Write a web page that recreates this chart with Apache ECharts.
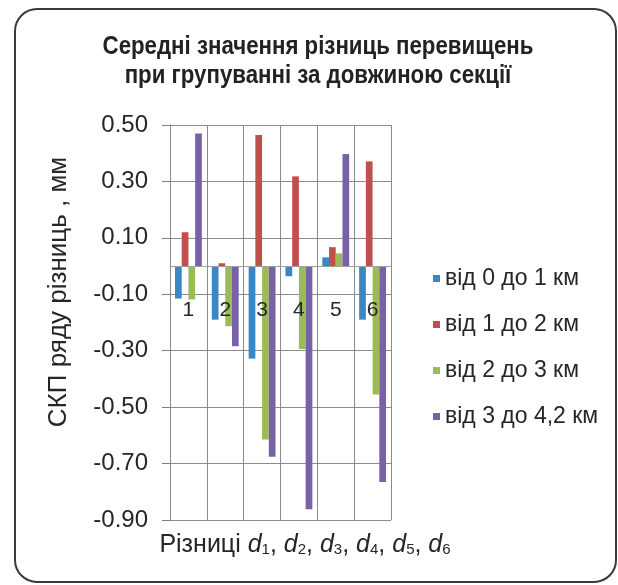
<!DOCTYPE html>
<html>
<head>
<meta charset="utf-8">
<script src="https://cdn.jsdelivr.net/npm/echarts@6/dist/echarts.min.js"></script>
<style>
  html, body { margin: 0; padding: 0; background: #ffffff; }
  #chart { width: 618px; height: 585px; }
</style>
</head>
<body>
<div id="chart"></div>
<script>
// Categories: differences d1..d6
const categories = ['1', '2', '3', '4', '5', '6'];

// Legend / series names (section length groups)
const seriesNames = ['від 0 до 1 км', 'від 1 до 2 км', 'від 2 до 3 км', 'від 3 до 4,2 км'];

// Mean values of the height differences, mm
const group0to1 = [-0.115, -0.19, -0.328, -0.036, 0.031, -0.19];
const group1to2 = [0.12, 0.01, 0.465, 0.318, 0.067, 0.371];
const group2to3 = [-0.118, -0.213, -0.615, -0.294, 0.045, -0.455];
const group3to42 = [0.47, -0.284, -0.676, -0.862, 0.397, -0.765];

// Value axis range and step
const yMin = -0.9;
const yMax = 0.5;
const yStep = 0.2;

const colors = ['#3a87c6', '#c0504d', '#9bbb59', '#7762a8'];
const seriesData = [group0to1, group1to2, group2to3, group3to42];

const chart = echarts.init(document.getElementById('chart'));

const textFont = "'Liberation Sans', Arial, sans-serif";

// plot area
const gridTop = 125;
const gridBottom = 65;
const gridHeight = 585 - gridTop - gridBottom;
// lift the category axis up to the zero level of the value axis
const zeroOffset = -gridHeight * (0 - yMin) / (yMax - yMin);

chart.setOption({
  backgroundColor: '#ffffff',
  animation: false,
  color: colors,
  legend: {
    orient: 'vertical',
    left: 428,
    top: 262,
    itemWidth: 7,
    itemHeight: 7,
    itemGap: 23,
    icon: 'rect',
    data: seriesNames,
    textStyle: {
      fontFamily: textFont,
      fontSize: 23,
      color: '#262626'
    }
  },
  grid: {
    left: 170,
    right: 227,
    top: gridTop,
    bottom: gridBottom,
    containLabel: false,
    show: false
  },
  xAxis: {
    type: 'category',
    data: categories,
    boundaryGap: true,
    offset: zeroOffset,
    z: 5,
    axisLine: { show: true, onZero: false, lineStyle: { color: '#a0a0a0', width: 1 } },
    axisTick: { show: false },
    axisLabel: {
      margin: 34,
      fontFamily: textFont,
      fontSize: 21,
      color: '#262626'
    },
    splitLine: { show: true, lineStyle: { color: '#8c8c8c', width: 1 } }
  },
  yAxis: {
    type: 'value',
    min: yMin,
    max: yMax,
    interval: yStep,
    axisLine: { show: true, onZero: false, lineStyle: { color: '#7f7f7f', width: 1 } },
    axisTick: { show: true, inside: false, length: 8, lineStyle: { color: '#7f7f7f' } },
    axisLabel: {
      margin: 22,
      fontFamily: textFont,
      fontSize: 24,
      color: '#262626',
      formatter: v => v.toFixed(2)
    },
    splitLine: { show: true, lineStyle: { color: '#8c8c8c', width: 1 } }
  },
  series: seriesNames.map((name, i) => ({
    name: name,
    type: 'bar',
    data: seriesData[i],
    barGap: '0%',
    barCategoryGap: '27%',
    itemStyle: { color: colors[i] }
  })),
  graphic: [
    {
      // rounded frame around the chart
      type: 'rect',
      silent: true,
      shape: { x: 15, y: 9, width: 601, height: 573, r: 22 },
      style: { fill: 'none', stroke: '#3a3a3a', lineWidth: 2 }
    },
    {
      // chart title, condensed bold
      type: 'text',
      x: 318,
      y: 47,
      scaleX: 0.89,
      style: {
        text: 'Середні значення різниць перевищень',
        fontFamily: textFont,
        fontWeight: 'bold',
        fontSize: 25,
        fill: '#222222',
        textAlign: 'center',
        textVerticalAlign: 'middle'
      }
    },
    {
      type: 'text',
      x: 318,
      y: 76,
      scaleX: 0.89,
      style: {
        text: 'при групуванні за довжиною секції',
        fontFamily: textFont,
        fontWeight: 'bold',
        fontSize: 25,
        fill: '#222222',
        textAlign: 'center',
        textVerticalAlign: 'middle'
      }
    },
    {
      // value axis title
      type: 'text',
      x: 59,
      y: 292,
      rotation: Math.PI / 2,
      style: {
        text: 'СКП ряду різниць , мм',
        fontFamily: textFont,
        fontSize: 26,
        fill: '#262626',
        textAlign: 'center',
        textVerticalAlign: 'middle'
      }
    },
    {
      // category axis title with subscripts
      type: 'text',
      x: 305,
      y: 545,
      style: {
        text: 'Різниці {i|d}{s|1}, {i|d}{s|2}, {i|d}{s|3}, {i|d}{s|4}, {i|d}{s|5}, {i|d}{s|6}',
        fontFamily: textFont,
        fontSize: 25,
        fill: '#262626',
        textAlign: 'center',
        textVerticalAlign: 'middle',
        rich: {
          i: { fontFamily: textFont, fontStyle: 'italic', fontSize: 25, fill: '#262626' },
          s: { fontFamily: textFont, fontSize: 15, fill: '#262626', verticalAlign: 'bottom', padding: [10, 0, 0, 0] }
        }
      }
    }
  ]
});
</script>
</body>
</html>
